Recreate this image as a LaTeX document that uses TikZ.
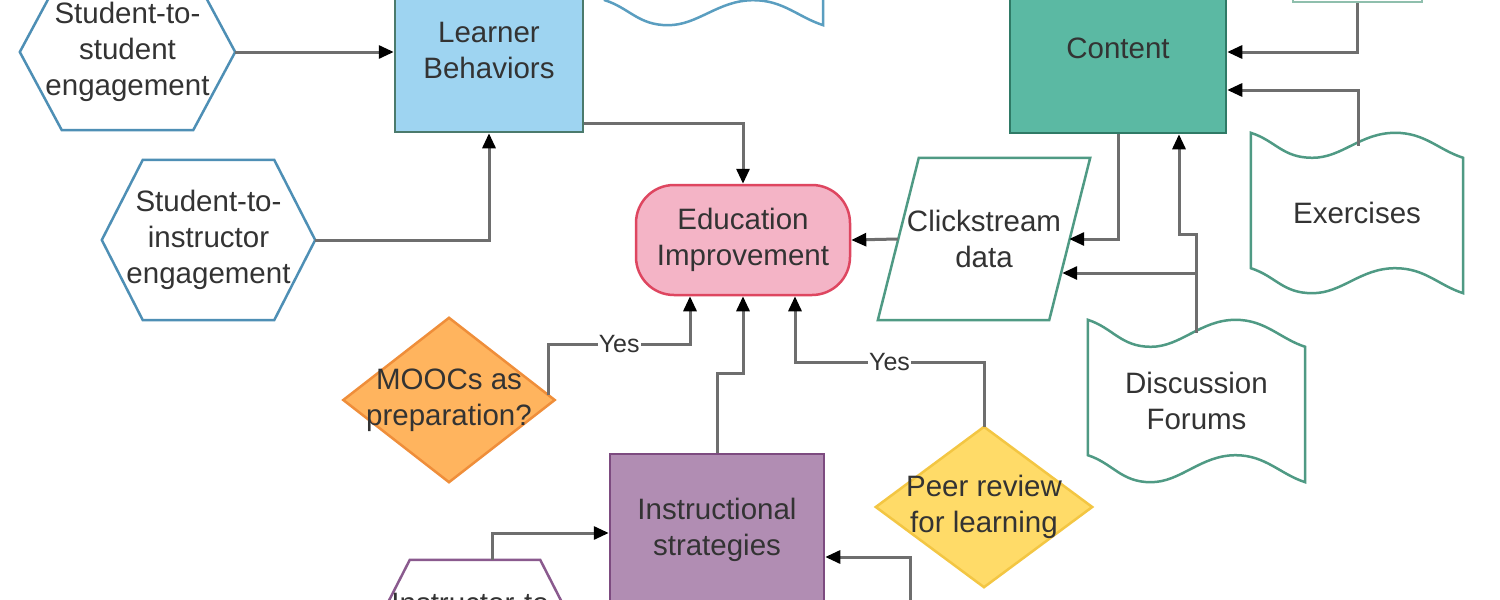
\documentclass[tikz,border=0pt]{standalone}
\usepackage{fontspec}
\setmainfont{Liberation Sans}
\usetikzlibrary{arrows.meta,calc,backgrounds}
\definecolor{txt}{HTML}{333333}
\definecolor{lineg}{HTML}{6E6E6E}
\definecolor{hexblue}{HTML}{4E8FB5}
\definecolor{tapeblue}{HTML}{5A9EC0}
\definecolor{lbfill}{HTML}{9ED4F1}
\definecolor{lbdraw}{HTML}{4B7A6C}
\definecolor{ctfill}{HTML}{5BB9A3}
\definecolor{ctdraw}{HTML}{2F7A66}
\definecolor{grn}{HTML}{4F9A84}
\definecolor{grnlight}{HTML}{8FBFAD}
\definecolor{eifill}{HTML}{F4B4C6}
\definecolor{eidraw}{HTML}{DE4660}
\definecolor{mofill}{HTML}{FFB45E}
\definecolor{modraw}{HTML}{EF8E3A}
\definecolor{prfill}{HTML}{FFDB68}
\definecolor{prdraw}{HTML}{F3C643}
\definecolor{isfill}{HTML}{B18DB3}
\definecolor{isdraw}{HTML}{7D4B80}
\definecolor{hexpurple}{HTML}{8A5A8E}
\tikzset{
  base/.style={inner sep=0pt, align=center, text=txt, font=\fontsize{29.5pt}{36pt}\selectfont},
  filledbox/.style={base, line width=2.5pt},
  outl/.style={line width=2.5pt},
  conn/.style={line width=3pt, draw=lineg, -{Triangle[length=15pt,width=13pt,color=black]}},
  yeslbl/.style={fill=white, inner sep=1pt, text=txt, font=\fontsize{25pt}{30pt}\selectfont}
}
\newcommand\hexout[3]{\draw[outl, draw=#2, fill=white] (#1.west) -- ($(#1.north west)+(#3,0)$) -- ($(#1.north east)+(-#3,0)$) -- (#1.east) -- ($(#1.south east)+(-#3,0)$) -- ($(#1.south west)+(#3,0)$) -- cycle;}
\newcommand\tapeout[3]{\draw[outl, draw=#2, fill=white]
  (#1.north west) .. controls +(25,8) and +(-30,0) .. ($(#1.north west)!0.29!(#1.north east)+(0,#3)$)
  .. controls +(30,0) and +(-35,0) .. ($(#1.north west)!0.68!(#1.north east)$)
  .. controls +(30,0) and +(-25,-8) .. ($(#1.north east)+(0,#3)$)
  -- (#1.south east)
  .. controls +(-25,-8) and +(30,0) .. ($(#1.south west)!0.68!(#1.south east)+(0,-#3)$)
  .. controls +(-35,0) and +(30,0) .. ($(#1.south west)!0.29!(#1.south east)$)
  .. controls +(-30,0) and +(25,8) .. ($(#1.south west)+(0,-#3)$)
  -- cycle;}
\begin{document}
\begin{tikzpicture}[x=1pt,y=-1pt]
\useasboundingbox (0,0) rectangle (1500,600);

% nodes
\node[base, minimum width=215pt, minimum height=156pt] (s2s) at (127.5,52) {Student-to-\\student\\engagement};
\node[base, minimum width=213pt, minimum height=160pt] (s2i) at (208.5,240) {Student-to-\\instructor\\engagement};
\node[base, minimum width=212pt, minimum height=160pt] (i2s) at (475,640) {};
\node[base] (i2slbl) at (475,603) {Instructor-to-};
\node[filledbox, draw=lbdraw, fill=lbfill, minimum width=188pt, minimum height=164pt] (lb) at (489,50) {Learner\\Behaviors};
\node[filledbox, draw=ctdraw, fill=ctfill, minimum width=216pt, minimum height=170pt] (ct) at (1118,48) {Content};
\node[filledbox, draw=grnlight, fill=white, minimum width=129pt, minimum height=84pt] (tr) at (1357.5,-40) {};
\node[base, minimum width=218pt, minimum height=159pt] (bt) at (714,-54.5) {};
\node[base, minimum width=212pt, minimum height=160pt] (ex) at (1357,213) {Exercises};
\node[base, minimum width=217pt, minimum height=162pt] (df) at (1196.5,401) {Discussion\\Forums};
\node[base, minimum width=212pt, minimum height=162pt] (cs) at (984,239) {Clickstream\\data};
\node[filledbox, draw=eidraw, fill=eifill, rounded corners=38pt, minimum width=214pt, minimum height=110pt] (ei) at (743,240) {Education\\Improvement};
\node[base, minimum width=211pt, minimum height=164pt] (mo) at (449,400) {MOOCs as\\preparation?};
\node[base, minimum width=216pt, minimum height=160pt] (pr) at (984,507) {Peer review\\for learning};
\node[filledbox, draw=isdraw, fill=isfill, minimum width=214pt, minimum height=152pt] (is) at (717,530) {Instructional\\strategies};
\coordinate (offp) at (910,640);

% outlines behind text
\begin{scope}[on background layer]
\fill[white] (0,0) rectangle (1500,600);
\hexout{s2s}{hexblue}{42}
\hexout{s2i}{hexblue}{41}
\hexout{i2s}{hexpurple}{41}
\tapeout{bt}{tapeblue}{25}
\tapeout{ex}{grn}{25}
\tapeout{df}{grn}{27}
\draw[outl, draw=grn, fill=white] (cs.south west) -- ($(cs.north west)+(41,0)$) -- (cs.north east) -- ($(cs.south east)+(-41,0)$) -- cycle;
\draw[outl, draw=modraw, fill=mofill] (mo.north) -- (mo.east) -- (mo.south) -- (mo.west) -- cycle;
\draw[outl, draw=prdraw, fill=prfill] (pr.north) -- (pr.east) -- (pr.south) -- (pr.west) -- cycle;
\end{scope}

% connectors
\draw[conn] (s2s.east) -- (s2s.east -| lb.west);
\draw[conn] (s2i.east) -| (lb.south);
\draw[conn] ($(lb.south east)+(0,-10)$) -| (ei.north);
\draw[conn] ($(cs.west)+(20,0)$) -- (ei.east);
\draw[conn] (ct.south) |- ($(cs.east)+(-21,0)$);
\draw[conn] ($(df.north)+(0,13)$) |- ($(ct.south)+(61,100)$) -- ($(ct.south)+(61,0)$);
\draw[conn] ($(df.north)+(0,13)$) |- ($(cs.east)+(-28,34)$);
\draw[conn] ($(ex.north)+(1,13)$) |- ($(ct.east)+(0,42)$);
\draw[conn] (tr.south) |- ($(ct.east)+(0,4)$);
\draw[conn] ($(mo.north)!0.94!(mo.east)$) |- node[pos=0.75, yeslbl] {Yes} ($(ei.south)+(-53,48)$) -- ($(ei.south)+(-53,0)$);
\draw[conn] (is.north) |- ($(ei.south)+(0,77)$) -- (ei.south);
\draw[conn] (pr.north) |- node[pos=0.75, yeslbl] {Yes} ($(ei.south)+(52,66)$) -- ($(ei.south)+(52,0)$);
\draw[conn] ($(i2s.north)+(17,0)$) |- ($(is.west)+(0,3)$);
\draw[conn] (offp) |- ($(is.east)+(0,27)$);
\end{tikzpicture}
\end{document}
